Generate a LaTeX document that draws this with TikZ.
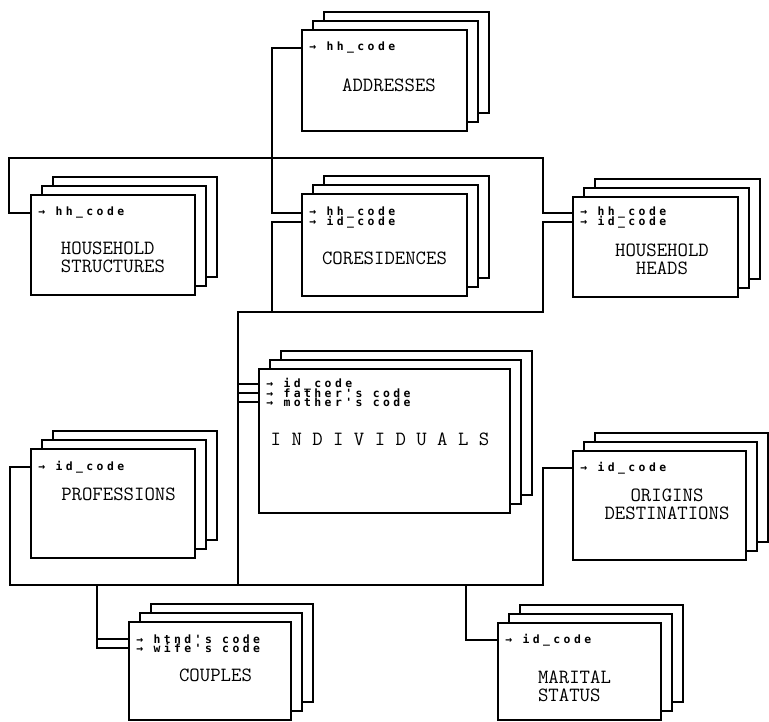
\documentclass[tikz,border=0pt]{standalone}
\usepackage{fontspec}
\newfontfamily\keyfont{DejaVu Sans Mono}[LetterSpace=30]
\usetikzlibrary{shadows}

\begin{document}
\begin{tikzpicture}[
      x=0.02cm, y=-0.02cm,
      card/.style={
        rectangle, draw, fill=white, line width=1.4pt, inner sep=0pt,
        general shadow={draw, fill=white, shadow xshift=0.44cm, shadow yshift=0.36cm},
        general shadow={draw, fill=white, shadow xshift=0.22cm, shadow yshift=0.18cm}
      },
      title/.style={
        inner sep=0pt, align=center,
        font=\ttfamily\fontsize{11.5}{10.2}\selectfont
      },
      key/.style={
        anchor=west, inner sep=0pt,
        font=\keyfont\bfseries\fontsize{6.5}{6}\selectfont
      },
      link/.style={line width=0.6pt}
    ]
    \useasboundingbox (0,0) rectangle (769,722);

    % --- Record cards ---
    \node[card, minimum width=3.30cm, minimum height=2.02cm] (addr)  at (384.5,80.5) {};
    \node[card, minimum width=3.28cm, minimum height=2.00cm] (hs)    at (113,245)    {};
    \node[card, minimum width=3.30cm, minimum height=2.04cm] (cores) at (384.5,245)  {};
    \node[card, minimum width=3.30cm, minimum height=2.00cm] (hh)    at (655.5,247)  {};
    \node[card, minimum width=5.02cm, minimum height=2.88cm] (ind)   at (384.5,441)  {};
    \node[card, minimum width=3.28cm, minimum height=2.18cm] (prof)  at (113,503.5)  {};
    \node[card, minimum width=3.46cm, minimum height=2.18cm] (orig)  at (659.5,505.5) {};
    \node[card, minimum width=3.24cm, minimum height=1.96cm] (coup)  at (210,671)    {};
    \node[card, minimum width=3.26cm, minimum height=1.94cm] (mar)   at (579.5,671.5) {};

    % --- Titles ---
    \node[title] (addr-t)  at (389,85)    {ADDRESSES};
    \node[title, align=left] (hs-t) at (113,257) {HOUSEHOLD\\STRUCTURES};
    \node[title] (cores-t) at (384.5,258) {CORESIDENCES};
    \node[title] (hh-t)    at (662,259)   {HOUSEHOLD\\HEADS};
    \node[title] (ind-t)   at (380,439)   {I N D I V I D U A L S};
    \node[title] (prof-t)  at (118.5,494) {PROFESSIONS};
    \node[title] (orig-t)  at (667,504.5) {ORIGINS\\DESTINATIONS};
    \node[title] (coup-t)  at (215.5,675) {COUPLES};
    \node[title, align=left] (mar-t) at (574.5,686) {MARITAL\\STATUS};

    % --- Key fields ---
    \node[key] (addr-hh)  at (309,48)  {→ hh\_code};
    \node[key] (hs-hh)    at (38,213)  {→ hh\_code};
    \node[key] (cores-hh) at (309,213) {→ hh\_code};
    \node[key] (cores-id) at (309,222) {→ id\_code};
    \node[key] (hh-hh)    at (580,213) {→ hh\_code};
    \node[key] (hh-id)    at (580,222) {→ id\_code};
    \node[key] (ind-id)   at (266,384) {→ id\_code};
    \node[key] (ind-fa)   at (266,393) {→ father's code};
    \node[key] (ind-mo)   at (266,402) {→ mother's code};
    \node[key] (prof-id)  at (38,467)  {→ id\_code};
    \node[key] (orig-id)  at (580,468) {→ id\_code};
    \node[key] (coup-hb)  at (136,639) {→ htnd's code};
    \node[key] (coup-wf)  at (136,648) {→ wife's code};
    \node[key] (mar-id)   at (505,640) {→ id\_code};

    % --- Bus points ---
    \coordinate (addrdrop)  at (272,48);
    \coordinate (hhbus-w)   at (9,158);
    \coordinate (hhbus-e)   at (543,158);
    \coordinate (coresdrop) at (272,312);
    \coordinate (idbus-w)   at (238,312);
    \coordinate (idbus-e)   at (543,312);
    \coordinate (lowbus-w)  at (10,585);
    \coordinate (lowbus-j)  at (238,585);
    \coordinate (lowbus-e)  at (543,585);
    \coordinate (coupdrop)  at (97,585);
    \coordinate (mardrop)   at (466,585);

    % --- hh_code links ---
    \draw[link] (addr.west |- addr-hh) -- (addrdrop) |- (cores.west |- cores-hh);
    \draw[link] (hs.west |- hs-hh) -| (hhbus-w) -- (hhbus-e) |- (hh.west |- hh-hh);

    % --- id_code links ---
    \draw[link] (cores.west |- cores-id) -| (coresdrop);
    \draw[link] (hh.west |- hh-id) -| (idbus-e) -- (idbus-w) -- (lowbus-j);
    \foreach \k in {ind-id, ind-fa, ind-mo}
      \draw[link] (idbus-w |- \k) -- (ind.west |- \k);
    \draw[link] (prof.west |- prof-id) -| (lowbus-w) -- (lowbus-e) |- (orig.west |- orig-id);
    \draw[link] (mardrop) |- (mar.west |- mar-id);
    \draw[link] (coupdrop) |- (coup.west |- coup-wf);
    \draw[link] (coupdrop |- coup-hb) -- (coup.west |- coup-hb);

  \end{tikzpicture}
\end{document}
